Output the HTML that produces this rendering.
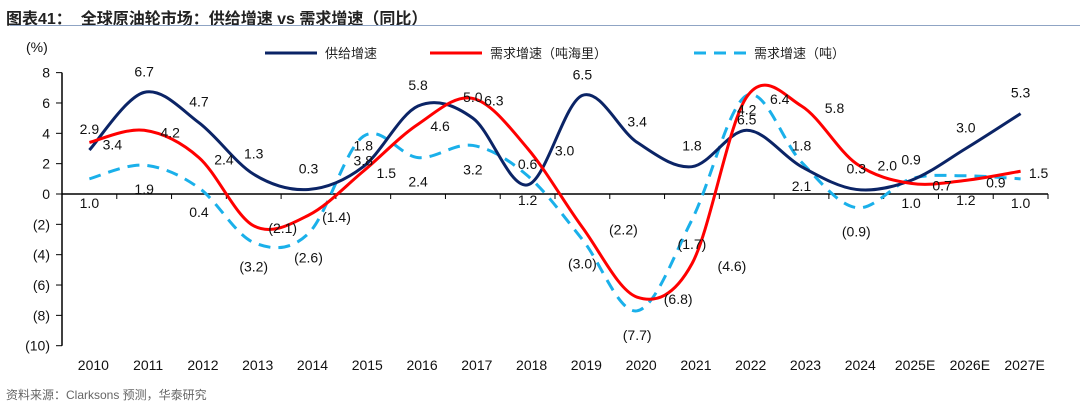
<!DOCTYPE html>
<html><head><meta charset="utf-8"><style>
html,body{margin:0;padding:0;background:#fff;}
body{width:1080px;height:410px;overflow:hidden;position:relative;font-family:"Liberation Sans","Noto Sans CJK SC",sans-serif;}
#title{position:absolute;left:6px;top:5px;font-size:16px;font-weight:bold;color:#222;}
#rule{position:absolute;left:10px;top:25px;width:1070px;height:1px;background:#8fa4c4;}
#foot{position:absolute;left:6px;top:386px;font-size:12px;color:#666;}
svg{position:absolute;left:0;top:0;}
</style></head><body>
<div id="title">图表41：&nbsp;&nbsp;全球原油轮市场：供给增速 vs 需求增速（同比）</div>
<div id="rule"></div>
<div id="foot">资料来源：Clarksons 预测，华泰研究</div>
<svg id="chart" width="1080" height="410"></svg>
<script>
const categories=["2010","2011","2012","2013","2014","2015","2016","2017","2018","2019","2020","2021","2022","2023","2024","2025E","2026E","2027E"];
const supply=[2.9,6.7,4.7,1.3,0.3,1.8,5.8,5.0,0.6,6.5,3.4,1.8,4.2,1.8,0.3,0.9,3.0,5.3];
const demandTonMile=[3.4,4.2,2.4,-2.1,-1.4,1.5,4.6,6.3,3.0,-2.2,-6.8,-4.6,6.4,5.8,2.0,0.7,0.9,1.5];
const demandTon=[1.0,1.9,0.4,-3.2,-2.6,3.8,2.4,3.2,1.2,-3.0,-7.7,-1.7,6.5,2.1,-0.9,1.0,1.2,1.0];
const yTicks=[8,6,4,2,0,-2,-4,-6,-8,-10];
const redDx=[23,26,25,29,28,23,22,21,37,41,41,40,33,33,31,31,30,18];

const NS="http://www.w3.org/2000/svg";
const svg=document.getElementById('chart');
const X0=62,X1=1048,Y0=194,PU=15.17;
const cw=(X1-X0)/categories.length;
const xs=i=>X0+cw*(i+0.5);
const ys=v=>Y0-v*PU;
function mk(t,a,p){const e=document.createElementNS(NS,t);for(const k in a)e.setAttribute(k,a[k]);(p||svg).appendChild(e);return e;}
function fmt(v){return v<0?"("+Math.abs(v).toFixed(1)+")":v.toFixed(1);}

const ya=mk('line',{x1:X0,y1:ys(8),x2:X0,y2:ys(-10),stroke:'#000','stroke-width':1.5});


yTicks.forEach(v=>{
  const t=mk('line',{x1:X0-6,y1:ys(v),x2:X0,y2:ys(v),stroke:'#000','stroke-width':1});
  
  
  const l=mk('text',{x:X0-12,y:ys(v)+5,'text-anchor':'end','font-size':14,fill:'#111'});
  l.textContent=v<0?"("+(-v)+")":String(v);
  
  
});
const unit=mk('text',{x:26,y:52,'font-size':14,fill:'#111'});unit.textContent="(%)";


const xa=mk('line',{x1:X0,y1:Y0,x2:X1,y2:Y0,stroke:'#000','stroke-width':1.5});


for(let i=1;i<=categories.length;i++){
  const t=mk('line',{x1:X0+cw*i,y1:Y0,x2:X0+cw*i,y2:Y0+5,stroke:'#000','stroke-width':1});
  
  
}
categories.forEach((c,i)=>{
  const l=mk('text',{x:xs(i)+4,y:370,'text-anchor':'middle','font-size':14,fill:'#111'});
  l.textContent=c;
  
  
});
function smooth(vals){
  const p=vals.map((v,i)=>[xs(i),ys(v)]);
  let d="M"+p[0][0]+","+p[0][1];
  for(let i=0;i<p.length-1;i++){
    const p0=p[i-1]||p[i],p1=p[i],p2=p[i+1],p3=p[i+2]||p[i+1];
    const t=1/6;
    const c1=[p1[0]+(p2[0]-p0[0])*t,p1[1]+(p2[1]-p0[1])*t];
    const c2=[p2[0]-(p3[0]-p1[0])*t,p2[1]-(p3[1]-p1[1])*t];
    d+=` C${c1[0]},${c1[1]} ${c2[0]},${c2[1]} ${p2[0]},${p2[1]}`;
  }
  return d;
}
const ton=mk('path',{d:smooth(demandTon),fill:'none',stroke:'#1ab0ea','stroke-width':3,'stroke-dasharray':'12,8'});


const sup=mk('path',{d:smooth(supply),fill:'none',stroke:'#0b2466','stroke-width':3});


const red=mk('path',{d:smooth(demandTonMile),fill:'none',stroke:'#ff0000','stroke-width':3});



function lab(x,y,v,name){
  const l=mk('text',{x:x,y:y+5,'text-anchor':'middle','font-size':14,fill:'#111'});
  l.textContent=fmt(v);
  
  
}
supply.forEach((v,i)=>lab(xs(i),ys(v)-21,v,'supply-label'));
demandTonMile.forEach((v,i)=>lab(xs(i)+redDx[i],ys(v)+2,v,'demand-tonmile-label'));
demandTon.forEach((v,i)=>lab(xs(i),ys(v)+24,v,'demand-ton-label'));

function leg(x,color,dash,text,name){
  const g=mk('g',{});
  
  
  mk('line',{x1:x,y1:53,x2:x+52,y2:53,stroke:color,'stroke-width':3,'stroke-dasharray':dash},g);
  const t=mk('text',{x:x+60,y:58,'font-size':13,fill:'#222'},g);t.textContent=text;
}
leg(265,'#0b2466','none','供给增速','legend-supply');
leg(430,'#ff0000','none','需求增速（吨海里）','legend-demand-tonmile');
leg(694,'#1ab0ea','12,8','需求增速（吨）','legend-demand-ton');
</script>
</body></html>
